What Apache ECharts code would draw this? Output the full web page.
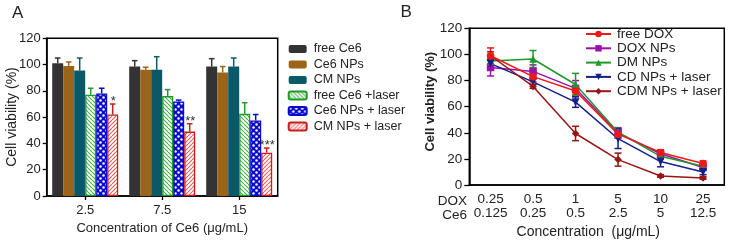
<!DOCTYPE html>
<html><head><meta charset="utf-8">
<script src="https://cdn.jsdelivr.net/npm/echarts/dist/echarts.min.js"></script>
<style>html,body{margin:0;padding:0;background:#fff}#c{width:733px;height:244px}</style>
</head><body><div id="c"></div>
<script>
// ---------- Panel A data ----------
const ce6Categories = ['2.5', '7.5', '15'];
const barNames = ['free Ce6', 'Ce6 NPs', 'CM NPs', 'free Ce6 +laser', 'Ce6 NPs + laser', 'CM NPs + laser'];
const freeCe6 = [101, 98.5, 98.5];
const freeCe6Err = [4, 4.5, 6];
const ce6NPs = [99, 96, 94];
const ce6NPsErr = [3, 2, 4.5];
const cmNPs = [95.5, 96, 98.5];
const cmNPsErr = [9.5, 10, 6.5];
const freeCe6Laser = [77, 76, 62.5];
const freeCe6LaserErr = [5, 5, 8.5];
const ce6NPsLaser = [78, 72, 57.5];
const ce6NPsLaserErr = [4, 1, 4.5];
const cmNPsLaser = [62, 49, 33];
const cmNPsLaserErr = [8, 6, 3.5];
const sigMarks = ['*', '**', '***'];

// ---------- Panel B data ----------
const doxConc = ['0.25', '0.5', '1', '5', '10', '25'];
const ce6Conc = ['0.125', '0.25', '0.5', '2.5', '5', '12.5'];
const lineNames = ['free DOX', 'DOX NPs', 'DM NPs', 'CD NPs + laser', 'CDM NPs + laser'];
const freeDOX = [99, 83, 72, 39, 25, 16.5];
const freeDOXErr = [6, 4, 3, 3, 2, 2];
const doxNPs = [90, 87, 74, 40, 24, 13.5];
const doxNPsErr = [6.5, 5, 6, 4, 2, 2];
const dmNPs = [95, 96.5, 77, 40.5, 22, 14.5];
const dmNPsErr = [3, 6.5, 8.5, 3, 2, 2];
const cdNPsLaser = [93, 79, 63.5, 35.5, 18, 10];
const cdNPsLaserErr = [3, 2, 4, 7.5, 4, 2];
const cdmNPsLaser = [99, 75.5, 39.5, 19.5, 7, 5.5];
const cdmNPsLaserErr = [3, 1.5, 5.5, 5, 1, 1];

// ---------- styles ----------
const FONT = 'Liberation Sans, Arial, sans-serif';
const TXT = '#222';
function stripes(bg, fg, dir) {
  const s = 4, c = document.createElement('canvas'); c.width = c.height = s;
  const g = c.getContext('2d'); g.fillStyle = bg; g.fillRect(0, 0, s, s);
  g.strokeStyle = fg; g.lineWidth = 1.1;
  for (let k = -1; k <= 1; k++) {
    g.beginPath();
    if (dir > 0) { g.moveTo(k * s, s); g.lineTo(k * s + s, 0); }
    else { g.moveTo(k * s, 0); g.lineTo(k * s + s, s); }
    g.stroke();
  }
  return { image: c, repeat: 'repeat' };
}
function dots(bg, fg) {
  const s = 6, c = document.createElement('canvas'); c.width = c.height = s;
  const g = c.getContext('2d'); g.fillStyle = bg; g.fillRect(0, 0, s, s);
  g.fillStyle = fg;
  [[1.5, 1.5], [4.5, 4.5]].forEach(p => { g.beginPath(); g.arc(p[0], p[1], 1.25, 0, Math.PI * 2); g.fill(); });
  return { image: c, repeat: 'repeat' };
}
const barFills = ['#333333', '#9b6419', '#0b5868', stripes('#ffffff', '#45b045', -1), dots('#0a0ad0', '#ffffff'), stripes('#ffffff', '#e06060', 1)];
const barEdges = ['#333333', '#9b6419', '#0b5868', '#1f9a2a', '#0a0ad0', '#cc1c1c'];
const lineColors = ['#f01818', '#9a10a8', '#1e9a2a', '#14208a', '#9a1414'];
const lineSymbols = ['circle', 'rect', 'triangle', 'path://M0,0L10,0L5,9Z', 'diamond'];
const CAT_GAP = 0.143;

const barValues = [freeCe6, ce6NPs, cmNPs, freeCe6Laser, ce6NPsLaser, cmNPsLaser];
const barErrors = [freeCe6Err, ce6NPsErr, cmNPsErr, freeCe6LaserErr, ce6NPsLaserErr, cmNPsLaserErr];
const lineValues = [freeDOX, doxNPs, dmNPs, cdNPsLaser, cdmNPsLaser];
const lineErrors = [freeDOXErr, doxNPsErr, dmNPsErr, cdNPsLaserErr, cdmNPsLaserErr];

const series = [];
barNames.forEach((n, i) => {
  series.push({
    type: 'bar', name: n, xAxisIndex: 0, yAxisIndex: 0, data: barValues[i],
    barGap: '0%', barCategoryGap: (CAT_GAP * 100) + '%',
    itemStyle: { color: barFills[i], borderColor: barEdges[i], borderWidth: i >= 3 ? 1.3 : 0 },
    emphasis: { disabled: true }
  });
});
const errA = [];
barNames.forEach((n, s) => ce6Categories.forEach((c, k) => errA.push([k, barValues[s][k], barErrors[s][k], s])));
series.push({
  type: 'custom', xAxisIndex: 0, yAxisIndex: 0, data: errA, z: 5, silent: true,
  renderItem(params, api) {
    const k = api.value(0), v = api.value(1), e = api.value(2), s = api.value(3);
    const band = api.size([1, 0])[0];
    const bw = band * (1 - CAT_GAP) / 6;
    const base = api.coord([k, v]);
    const x = base[0] + (s - 2.5) * bw;
    const top = api.coord([k, v + e])[1];
    const st = { stroke: barEdges[s], lineWidth: 1.5 };
    const ch = [
      { type: 'line', shape: { x1: x, y1: base[1], x2: x, y2: top }, style: st },
      { type: 'line', shape: { x1: x - 2.8, y1: top, x2: x + 2.8, y2: top }, style: st }
    ];
    if (s === 5) ch.push({ type: 'text', x: x + 0.5, y: top - 2.5, style: { text: sigMarks[k], fill: '#333', font: '13px ' + FONT, align: 'center', verticalAlign: 'middle' } });
    return { type: 'group', children: ch };
  }
});
lineNames.forEach((n, i) => {
  series.push({
    type: 'line', name: n, xAxisIndex: 1, yAxisIndex: 1, data: lineValues[i],
    symbol: lineSymbols[i], symbolSize: i === 3 ? 8 : 7.5, z: i === 0 ? 4 : 3,
    lineStyle: { color: lineColors[i], width: 1.5 }, itemStyle: { color: lineColors[i] },
    emphasis: { disabled: true }
  });
  const d = lineValues[i].map((v, k) => [k, v, lineErrors[i][k]]);
  series.push({
    type: 'custom', xAxisIndex: 1, yAxisIndex: 1, data: d, z: 3, silent: true,
    renderItem(params, api) {
      const k = api.value(0), v = api.value(1), e = api.value(2);
      const hi = api.coord([k, v + e]), lo = api.coord([k, v - e]);
      const st = { stroke: lineColors[i], lineWidth: 1.5 };
      return { type: 'group', children: [
        { type: 'line', shape: { x1: hi[0], y1: hi[1], x2: lo[0], y2: lo[1] }, style: st },
        { type: 'line', shape: { x1: hi[0] - 3.5, y1: hi[1], x2: hi[0] + 3.5, y2: hi[1] }, style: st },
        { type: 'line', shape: { x1: lo[0] - 3.5, y1: lo[1], x2: lo[0] + 3.5, y2: lo[1] }, style: st }
      ] };
    }
  });
});

const axisLine = { show: true, lineStyle: { color: '#000', width: 1.5 } };
const chart = echarts.init(document.getElementById('c'), null, { renderer: 'canvas' });
chart.setOption({
  animation: false,
  backgroundColor: '#fff',
  textStyle: { fontFamily: FONT },
  grid: [
    { left: 46.7, width: 231, top: 38.3, height: 157.7, show: true, borderColor: '#000', borderWidth: 1.5, containLabel: false },
    { left: 469.3, width: 255, top: 28.3, height: 159.7, show: true, borderColor: '#000', borderWidth: 1.5, containLabel: false }
  ],
  xAxis: [
    { type: 'category', gridIndex: 0, data: ce6Categories, axisLine,
      axisTick: { show: true, alignWithLabel: true, length: 4, lineStyle: { color: '#000', width: 1.3 } },
      axisLabel: { margin: 8, fontSize: 13, color: TXT, fontFamily: FONT, interval: 0 },
      name: 'Concentration of Ce6 (μg/mL)', nameLocation: 'middle', nameGap: 24,
      nameTextStyle: { fontSize: 13, color: TXT, fontFamily: FONT } },
    { type: 'category', gridIndex: 1, data: doxConc, axisLine, axisTick: { show: false },
      axisLabel: { margin: 7, fontSize: 13.5, lineHeight: 14, color: TXT, fontFamily: FONT, interval: 0, hideOverlap: false,
        formatter: (v, idx) => v + '\n' + ce6Conc[idx] },
      name: 'Concentration  (μg/mL)', nameLocation: 'middle', nameGap: 37,
      nameTextStyle: { fontSize: 14, color: TXT, fontFamily: FONT, padding: [0, 17, 0, 0] } }
  ],
  yAxis: [
    { type: 'value', gridIndex: 0, min: 0, max: 120, interval: 20, axisLine, splitLine: { show: false },
      axisTick: { show: true, length: 4, lineStyle: { color: '#000', width: 1.3 } },
      axisLabel: { margin: 6, fontSize: 13, color: TXT, fontFamily: FONT } },
    { type: 'value', gridIndex: 1, min: 0, max: 120, interval: 20, axisLine, splitLine: { show: false },
      axisTick: { show: true, length: 5, lineStyle: { color: '#000', width: 1.3 } },
      axisLabel: { margin: 7, fontSize: 13.5, color: TXT, fontFamily: FONT } }
  ],
  legend: [
    { data: barNames, orient: 'vertical', left: 287.7, top: 41.5, padding: 0, itemWidth: 18, itemHeight: 8, itemGap: 0.5,
      textStyle: { fontSize: 12.5, lineHeight: 15, color: TXT, fontFamily: FONT, padding: [0, 0, 0, 2] },
      selectedMode: false },
    { data: lineNames, orient: 'vertical', left: 585, top: 27, padding: 0, itemWidth: 25, itemHeight: 8, itemGap: 0.3,
      textStyle: { fontSize: 13.5, lineHeight: 14, color: TXT, fontFamily: FONT, padding: [0, 0, 0, 1] },
      selectedMode: false }
  ],
  graphic: [
    { type: 'text', left: 12, top: 5, style: { text: 'A', font: '17px ' + FONT, fill: TXT } },
    { type: 'text', left: 400.5, top: 3.5, style: { text: 'B', font: '17px ' + FONT, fill: TXT } },
    { type: 'text', x: 12, y: 117, rotation: Math.PI / 2, style: { text: 'Cell viability (%)', font: '14px ' + FONT, fill: TXT, align: 'center', verticalAlign: 'middle' } },
    { type: 'text', x: 430, y: 101.7, rotation: Math.PI / 2, style: { text: 'Cell viability (%)', font: 'bold 13px ' + FONT, fill: TXT, align: 'center', verticalAlign: 'middle' } },
    { type: 'text', x: 467, y: 201.7, style: { text: 'DOX', font: '13.5px ' + FONT, fill: TXT, align: 'right', verticalAlign: 'middle' } },
    { type: 'text', x: 467, y: 215.7, style: { text: 'Ce6', font: '13.5px ' + FONT, fill: TXT, align: 'right', verticalAlign: 'middle' } }
  ],
  series
});
</script></body></html>
